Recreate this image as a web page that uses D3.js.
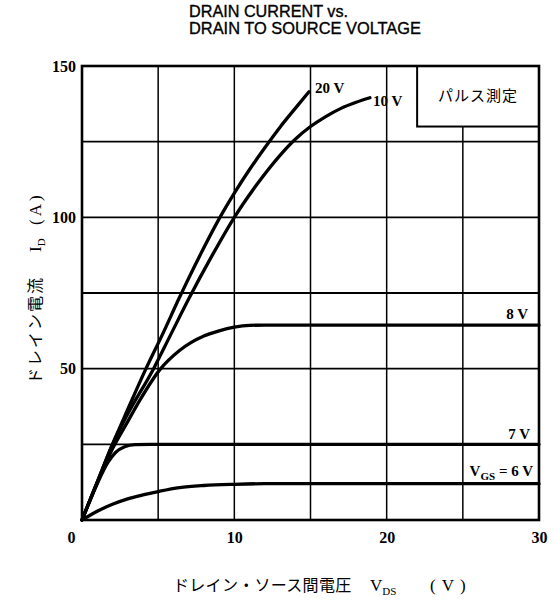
<!DOCTYPE html>
<html><head><meta charset="utf-8">
<script src="https://cdn.jsdelivr.net/npm/d3@7"></script>
<style>
html,body{margin:0;padding:0;background:#fff;}
svg{display:block;}
</style></head>
<body>
<svg id="c" width="556" height="601"></svg>
<script>
// ---- data ----
const titleLines = ["DRAIN CURRENT vs.", "DRAIN TO SOURCE VOLTAGE"];
const xTicks = [0, 10, 20, 30];
const yTicks = [0, 50, 100, 150];
const xGrid = [5, 10, 15, 20, 25];
const yGrid = [25, 50, 75, 100, 125];
const vgsNames = ["20 V", "10 V", "8 V", "7 V", "6 V"];
const curve20V = [[0,0],[1,12.5],[2,25],[3,36.5],[4.2,50],[5.3,61.5],[6.35,73],[7.7,87],[9,99.5],[10,108],[11,115.8],[12,123],[13,129.8],[14,136],[14.9,141.5]];
const curve10V = [[0,0],[1,12.5],[2,25],[3,35],[4.7,50],[5.8,61],[7,73],[8.5,87],[10,100],[11.5,111],[13,120.5],[14,125.8],[15,130],[16,133.3],[17,136],[18,138],[18.9,139.5]];
const curve8V  = [[0,0],[1,12.3],[2,23.5],[3,32.5],[3.8,39.6],[5.1,49.6],[6.4,56],[8,60.8],[9,62.5],[10,63.7],[11,64.3],[12,64.4],[30,64.4]];
const curve7V  = [[0,0],[1,12],[1.7,19],[2.2,22.3],[2.8,24.2],[3.5,24.9],[4.5,25],[30,25]];
const curve6V  = [[0,0],[1,2.9],[2,5.2],[3,7],[4,8.3],[5,9.4],[6.4,10.7],[8,11.4],[10,11.8],[12,12],[30,12]];
const legendText = "パルス測定";
const xTitleJa = "ドレイン・ソース間電圧";
const yTitleJa = "ドレイン電流";

// ---- layout ----
const svg = d3.select("#c");
const L = 82, R = 539, T = 66, B = 520;
const x = d3.scaleLinear().domain([0, 30]).range([L, R]);
const y = d3.scaleLinear().domain([0, 150]).range([B, T]);
const serif = "'Liberation Serif','DejaVu Serif',serif";
const ja = "'Noto Sans CJK JP','Noto Sans CJK SC',sans-serif";

// title
svg.append("g").selectAll("text").data(titleLines).join("text")
  .attr("x", 189).attr("y", (d, i) => 17 + i * 16.5)
  .attr("font-family", "'Liberation Sans',Arial,sans-serif")
  .attr("font-size", 16.5)
  .attr("textLength", (d, i) => i === 0 ? 159 : 232)
  .attr("lengthAdjust", "spacingAndGlyphs")
  .attr("fill", "#000").attr("stroke", "#000").attr("stroke-width", 0.35)
  .text(d => d);

// grid
const g = svg.append("g");
g.selectAll(".vg").data(xGrid).join("line")
  .attr("x1", d => x(d)).attr("x2", d => x(d)).attr("y1", T).attr("y2", B)
  .attr("stroke", "#000").attr("stroke-width", 1.5);
g.selectAll(".hg").data(yGrid).join("line")
  .attr("x1", L).attr("x2", R).attr("y1", d => y(d)).attr("y2", d => y(d))
  .attr("stroke", "#000").attr("stroke-width", 1.8);

// legend box
g.append("rect")
  .attr("x", x(22)).attr("y", y(150)).attr("width", x(30) - x(22)).attr("height", y(130) - y(150))
  .attr("fill", "#fff").attr("stroke", "#000").attr("stroke-width", 2);
g.append("text")
  .attr("x", (x(22) + x(30)) / 2).attr("y", (y(150) + y(130)) / 2 + 5)
  .attr("text-anchor", "middle").attr("font-family", ja).attr("font-size", 15)
  .attr("letter-spacing", 1)
  .text(legendText);

// frame
g.append("rect").attr("x", L).attr("y", T).attr("width", R - L).attr("height", B - T)
  .attr("fill", "none").attr("stroke", "#000").attr("stroke-width", 2.6);

// axes (tick labels via d3 axis)
const xAxis = svg.append("g").attr("transform", `translate(0,${B})`)
  .call(d3.axisBottom(x).tickValues(xTicks).tickSize(0).tickPadding(12).tickFormat(d3.format("d")));
xAxis.select(".domain").remove();
xAxis.selectAll("text").attr("font-family", serif).attr("font-weight", "bold").attr("font-size", 16).attr("fill", "#000")
  .attr("dx", d => d === 0 ? -11 : 0);
const yAxis = svg.append("g").attr("transform", `translate(${L},0)`)
  .call(d3.axisLeft(y).tickValues(yTicks.filter(d => d !== 0)).tickSize(0).tickPadding(6).tickFormat(d3.format("d")));
yAxis.select(".domain").remove();
yAxis.selectAll("text").attr("font-family", serif).attr("font-weight", "bold").attr("font-size", 16).attr("fill", "#000");

// curves
const line = d3.line().x(d => x(d[0])).y(d => y(d[1])).curve(d3.curveMonotoneX);
const curves = [curve20V, curve10V, curve8V, curve7V, curve6V];
svg.append("g").selectAll("path").data(curves).join("path")
  .attr("d", line).attr("fill", "none").attr("stroke", "#000")
  .attr("stroke-width", 3.3).attr("stroke-linecap", "round").attr("stroke-linejoin", "round");

// curve labels
const lab = svg.append("g").attr("font-family", serif).attr("font-weight", "bold").attr("font-size", 15).attr("fill", "#000");
const c20end = curve20V[curve20V.length - 1], c10end = curve10V[curve10V.length - 1];
lab.append("text").attr("x", x(c20end[0]) + 6).attr("y", y(c20end[1]) + 1).text(vgsNames[0]);
lab.append("text").attr("x", x(c10end[0]) + 3).attr("y", y(c10end[1]) + 8).text(vgsNames[1]);
lab.append("text").attr("x", R - 11).attr("y", y(curve8V[curve8V.length - 1][1]) - 6).attr("text-anchor", "end").text(vgsNames[2]);
lab.append("text").attr("x", R - 9).attr("y", y(curve7V[curve7V.length - 1][1]) - 5).attr("text-anchor", "end").text(vgsNames[3]);
const t6 = lab.append("text").attr("x", R - 6).attr("y", y(curve6V[curve6V.length - 1][1]) - 8).attr("text-anchor", "end");
t6.append("tspan").text("V");
t6.append("tspan").attr("font-size", 11).attr("dy", 4).text("GS");
t6.append("tspan").attr("dy", -4).text(" = " + vgsNames[4]);

// x axis title
const xt = svg.append("g").attr("fill", "#000");
xt.append("text").attr("x", 173).attr("y", 591).attr("font-family", ja).attr("font-size", 16)
  .attr("letter-spacing", 0.3).text(xTitleJa);
const xv = xt.append("text").attr("x", 370).attr("y", 591).attr("font-family", serif).attr("font-size", 17);
xv.append("tspan").text("V");
xv.append("tspan").attr("font-size", 11).attr("dy", 4).text("DS");
xt.append("text").attr("x", 430).attr("y", 591).attr("font-family", serif).attr("font-size", 17)
  .attr("letter-spacing", 6).text("(V)");

// y axis title
const yt = svg.append("g").attr("transform", "translate(41,384) rotate(-90)").attr("fill", "#000");
yt.append("text").attr("x", 0).attr("y", 0).attr("font-family", ja).attr("font-size", 16)
  .attr("letter-spacing", 2).text(yTitleJa);
const yi = yt.append("text").attr("x", 132).attr("y", 0).attr("font-family", serif).attr("font-size", 17);
yi.append("tspan").text("I");
yi.append("tspan").attr("font-size", 11).attr("dy", 4).text("D");
yt.append("text").attr("x", 159).attr("y", 0).attr("font-family", serif).attr("font-size", 17)
  .attr("letter-spacing", 3).text("(A)");
</script>
</body></html>
